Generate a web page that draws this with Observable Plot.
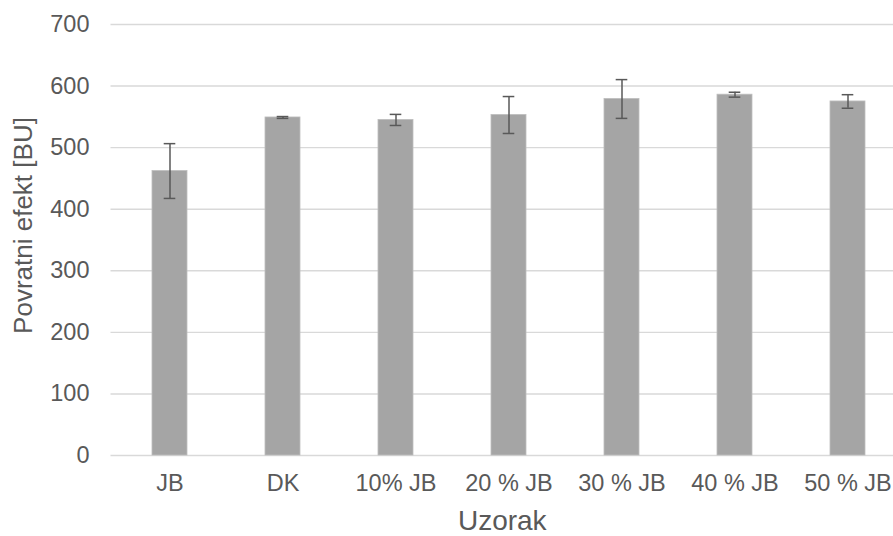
<!DOCTYPE html>
<html>
<head>
<meta charset="utf-8">
<script src="https://cdn.jsdelivr.net/npm/d3@7"></script>
<script src="https://cdn.jsdelivr.net/npm/@observablehq/plot@0.6"></script>
<style>
  html, body { margin: 0; padding: 0; background: #fff; }
</style>
</head>
<body>
<div id="chart"></div>
<script>
const categories = ["JB", "DK", "10% JB", "20 % JB", "30 % JB", "40 % JB", "50 % JB"];
const values = [462, 549, 545, 553, 579, 586, 575];
const errors = [44.5, 1.5, 9, 30, 31.5, 4, 11];
const yTicks = [0, 100, 200, 300, 400, 500, 600, 700];
const xTitle = "Uzorak";
const yTitle = "Povratni efekt [BU]";

const data = categories.map((c, i) => ({
  name: c,
  value: values[i],
  lo: values[i] - errors[i],
  hi: values[i] + errors[i]
}));

const textColor = "#595959";

const chart = Plot.plot({
  width: 893,
  height: 536,
  marginLeft: 110.5,
  marginRight: 0,
  marginTop: 24,
  marginBottom: 81,
  style: {
    fontFamily: "'Liberation Sans', Arial, sans-serif",
    fontSize: "23.5px",
    color: textColor,
    background: "#fff"
  },
  x: {
    domain: categories,
    range: [110.5, 906],
    paddingInner: 0.69,
    paddingOuter: 0.345
  },
  y: {
    domain: [0, 700]
  },
  marks: [
    Plot.ruleY(yTicks, {stroke: "#D9D9D9", strokeWidth: 1.4}),
    Plot.barY(data, {x: "name", y: "value", fill: "#A5A5A5", stroke: "#BDBDBD", strokeWidth: 0.8}),
    Plot.ruleX(data, {x: "name", y1: "lo", y2: "hi", stroke: "#595959", strokeWidth: 1.5}),
    Plot.tickY(data, {x: "name", y: "hi", stroke: "#595959", strokeWidth: 1.5, insetLeft: 11.7, insetRight: 11.7}),
    Plot.tickY(data, {x: "name", y: "lo", stroke: "#595959", strokeWidth: 1.5, insetLeft: 11.7, insetRight: 11.7}),
    Plot.axisX({tickSize: 0, tickPadding: 19, label: null, fontSize: 23.5}),
    Plot.axisY({ticks: yTicks, tickSize: 0, tickPadding: 21.5, label: null, fontSize: 23.5}),
    Plot.text([xTitle], {frameAnchor: "bottom", lineAnchor: "middle", dy: 65.3, fontSize: 28, fill: textColor}),
    Plot.text([yTitle], {frameAnchor: "left", textAnchor: "middle", lineAnchor: "middle", rotate: -90, dx: -87, dy: -14.5, fontSize: 26, fill: textColor})
  ]
});

document.getElementById("chart").appendChild(chart);
</script>
</body>
</html>
